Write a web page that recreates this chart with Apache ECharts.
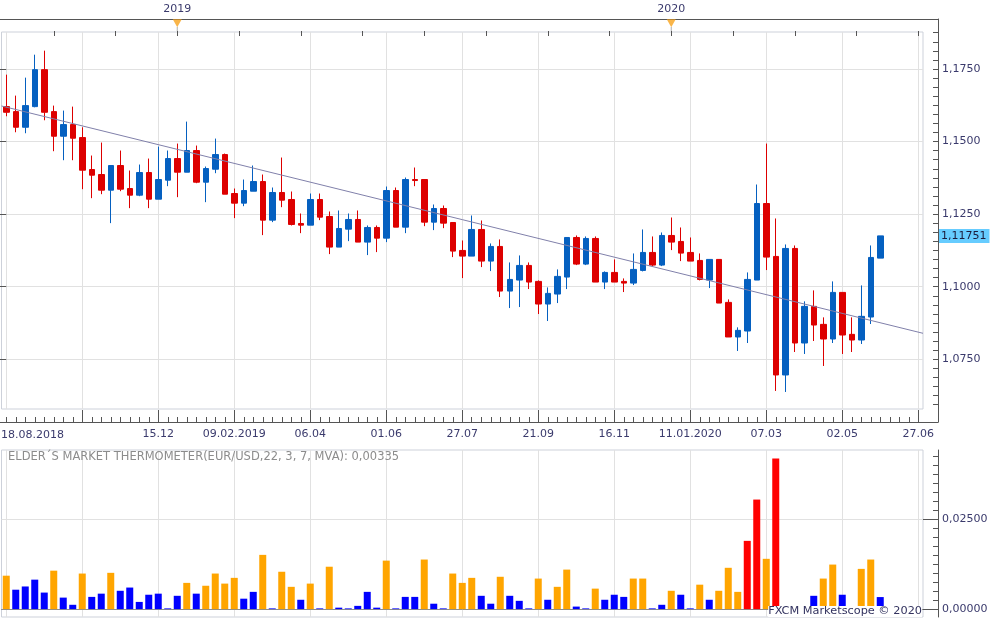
<!DOCTYPE html>
<html>
<head>
<meta charset="utf-8">
<script src="https://cdn.jsdelivr.net/npm/echarts@6.0.0/dist/echarts.min.js"></script>
<style>
  html, body { margin: 0; padding: 0; background: #fff; }
  #main { width: 996px; height: 619px; }
</style>
</head>
<body>
<div id="main"></div>
<script>
// EUR/USD weekly, first visible week is 25.08.2018
const firstWeek = Date.UTC(2018, 7, 25);
const weekCount = 97;
const startLabel = '18.08.2018';
const bottomLabels = ['15.12', '09.02.2019', '06.04', '01.06', '27.07', '21.09', '16.11', '11.01.2020', '07.03', '02.05', '27.06'];
const firstLabelWeek = 16;
const labelStep = 8;
const yearStarts = ['29.12.2018', '28.12.2019'];
const yearNames = ['2019', '2020'];

const priceTicks = [1.075, 1.1, 1.125, 1.15, 1.175];
const priceMin = 1.05789, priceMax = 1.18774;
const thermoTicks = [0, 0.025];
const thermoMin = -0.0022, thermoMax = 0.0443;

const opens = [1.16204, 1.16032, 1.15493, 1.16204, 1.17477, 1.16032, 1.15184, 1.15585, 1.15138, 1.14037,
  1.13865, 1.13326, 1.14175, 1.13383, 1.13154, 1.13934, 1.13016, 1.13670, 1.14415, 1.13945,
  1.14691, 1.13601, 1.14048, 1.14553, 1.13211, 1.12879, 1.13291, 1.13624, 1.12294, 1.13246,
  1.13005, 1.12179, 1.12122, 1.13005, 1.12420, 1.11365, 1.11984, 1.12317, 1.11537, 1.12041,
  1.11674, 1.13314, 1.12053, 1.13693, 1.13693, 1.12225, 1.12695, 1.12213, 1.11250, 1.11055,
  1.11973, 1.10883, 1.11388, 1.09851, 1.10230, 1.10734, 1.10184, 1.09404, 1.09748, 1.10333,
  1.11697, 1.10780, 1.11663, 1.10161, 1.10493, 1.10184, 1.10126, 1.10562, 1.11181, 1.10746,
  1.11766, 1.11560, 1.11181, 1.10906, 1.10230, 1.10941, 1.09461, 1.08269, 1.08475, 1.10230,
  1.12867, 1.11044, 1.06961, 1.11319, 1.08062, 1.09324, 1.08704, 1.08200, 1.09805, 1.08360,
  1.08165, 1.08957, 1.10986];
const closes = [1.16009, 1.15493, 1.16239, 1.17477, 1.16009, 1.15184, 1.15585, 1.15115, 1.14014, 1.13842,
  1.13326, 1.14175, 1.13360, 1.13154, 1.13934, 1.13016, 1.13693, 1.14415, 1.13945, 1.14691,
  1.13601, 1.14071, 1.14553, 1.13188, 1.12879, 1.13314, 1.13624, 1.12294, 1.13246, 1.12982,
  1.12145, 1.12122, 1.13005, 1.12397, 1.11365, 1.12007, 1.12317, 1.11537, 1.12041, 1.11674,
  1.13314, 1.12053, 1.13693, 1.13658, 1.12225, 1.12695, 1.12191, 1.11227, 1.11055, 1.11973,
  1.10883, 1.11388, 1.09851, 1.10252, 1.10734, 1.10161, 1.09404, 1.09771, 1.10356, 1.11697,
  1.10780, 1.11663, 1.10161, 1.10493, 1.10161, 1.10126, 1.10597, 1.11181, 1.10746, 1.11766,
  1.11537, 1.11158, 1.10883, 1.10252, 1.10941, 1.09438, 1.08269, 1.08498, 1.10252, 1.12867,
  1.11021, 1.06961, 1.11319, 1.08062, 1.09324, 1.08681, 1.08200, 1.09805, 1.08337, 1.08165,
  1.08980, 1.11009, 1.11751];
const lows = [1.15872, 1.15321, 1.15287, 1.16181, 1.15734, 1.14668, 1.14358, 1.14358, 1.13360, 1.13051,
  1.13188, 1.12191, 1.13291, 1.12707, 1.13119, 1.12707, 1.13016, 1.13464, 1.13085, 1.13945,
  1.13567, 1.12913, 1.13911, 1.13188, 1.12363, 1.12775, 1.13291, 1.11778, 1.12225, 1.12741,
  1.12110, 1.11846, 1.12122, 1.12294, 1.11124, 1.11365, 1.11571, 1.11537, 1.11090, 1.11193,
  1.11537, 1.12053, 1.11846, 1.13464, 1.12087, 1.11950, 1.12018, 1.11021, 1.10298, 1.11055,
  1.10677, 1.10539, 1.09645, 1.09266, 1.09301, 1.09920, 1.09060, 1.08819, 1.09438, 1.09920,
  1.10746, 1.10746, 1.10161, 1.09920, 1.10161, 1.09817, 1.10058, 1.10528, 1.10711, 1.10711,
  1.11262, 1.10883, 1.10883, 1.10218, 1.09954, 1.09438, 1.08269, 1.07787, 1.08062, 1.10230,
  1.10574, 1.06411, 1.06376, 1.07752, 1.07684, 1.08131, 1.07271, 1.08062, 1.07684, 1.07752,
  1.08028, 1.08716, 1.10986];
const highs = [1.17305, 1.16583, 1.17202, 1.17993, 1.18131, 1.16239, 1.16067, 1.16204, 1.15493, 1.14519,
  1.14966, 1.14175, 1.14691, 1.14003, 1.14209, 1.14415, 1.14828, 1.14691, 1.14931, 1.15688,
  1.14863, 1.14140, 1.15103, 1.14587, 1.13383, 1.13693, 1.14175, 1.13865, 1.13418, 1.14450,
  1.13280, 1.12523, 1.13211, 1.13211, 1.12592, 1.12626, 1.12523, 1.12626, 1.12110, 1.12110,
  1.13452, 1.13418, 1.13762, 1.14106, 1.13693, 1.12833, 1.12798, 1.12213, 1.11594, 1.12454,
  1.12282, 1.11491, 1.11629, 1.10837, 1.11078, 1.10837, 1.10218, 1.09977, 1.10597, 1.11697,
  1.11766, 1.11732, 1.11732, 1.10528, 1.10941, 1.10287, 1.11147, 1.11973, 1.11732, 1.11869,
  1.12385, 1.12041, 1.11697, 1.11147, 1.10941, 1.10941, 1.09564, 1.08601, 1.10493, 1.13521,
  1.14931, 1.12351, 1.11457, 1.11422, 1.09496, 1.09874, 1.08945, 1.10184, 1.09805, 1.08945,
  1.10046, 1.11422, 1.11751];

// trend line end points: [week position, price]
const trendLine = [[-0.5, 1.16226], [96.5, 1.08396]];

// Elder's market thermometer, o = above average, b = below, r = explosive
const thermo = [0.0093, 0.0054, 0.0063, 0.0082, 0.0046, 0.0107, 0.0032, 0.0012, 0.0099, 0.0034,
  0.0043, 0.0101, 0.0051, 0.0060, 0.0020, 0.0040, 0.0043, 0.0002, 0.0037, 0.0073,
  0.0043, 0.0065, 0.0099, 0.0071, 0.0087, 0.0029, 0.0048, 0.0151, 0.0002, 0.0104,
  0.0062, 0.0026, 0.0071, 0.0002, 0.0118, 0.0004, 0.0002, 0.0009, 0.0048, 0.0004,
  0.0135, 0.0002, 0.0034, 0.0034, 0.0138, 0.0015, 0.0002, 0.0099, 0.0073, 0.0087,
  0.0037, 0.0015, 0.0090, 0.0037, 0.0023, 0.0002, 0.0085, 0.0026, 0.0062, 0.0110,
  0.0007, 0.0002, 0.0057, 0.0026, 0.0040, 0.0034, 0.0085, 0.0085, 0.0002, 0.0012,
  0.0051, 0.0040, 0.0002, 0.0068, 0.0026, 0.0051, 0.0115, 0.0048, 0.0190, 0.0305,
  0.0140, 0.0419, 0.0003, 0, 0.0007, 0.0037, 0.0085, 0.0124, 0.0040, 0,
  0.0112, 0.0138, 0.00335];
const thermoState = ('obbbbobbob' + 'bobbbbbbbo' + 'boooobbobo' + 'obobobbbbb' + 'obbbobbooo' +
  'bbobbboboo' + 'bbobbboobb' + 'obbobooorr' + 'orbbbboobb' + 'oob').split('');

const pad = n => (n < 10 ? '0' : '') + n;
const dates = [];
for (let i = 0; i < weekCount; i++) {
  const d = new Date(firstWeek + i * 7 * 864e5);
  dates.push(pad(d.getUTCDate()) + '.' + pad(d.getUTCMonth() + 1) + '.' + d.getUTCFullYear());
}
const yearIdx = yearStarts.map(s => dates.indexOf(s));
const topTicks = [];
for (let v = yearIdx[0] - 13; v <= weekCount - 0.5; v += 6.5) topTicks.push(v);
const minorPrice = [];
for (let k = 0; k < 50; k++) {
  const v = +(1.05 + k * 0.003125).toFixed(6);
  if (v > priceMin && v < priceMax) minorPrice.push(v);
}
const minorThermo = [];
for (let k = 0; k <= 17; k++) minorThermo.push(+(k * 0.0025).toFixed(4));

const fmt = (v, d) => v.toFixed(d).replace('.', ',');
const lastClose = closes[closes.length - 1];

const font = 'DejaVu Sans';
const ink = '#3a3a6c';
const axisDark = '#555555';
const gridGray = '#e1e1e1';
const frameGray = '#cdd1da';
const upBlue = '#0560c0';
const downRed = '#dd0000';
const stateColor = { o: '#ffa500', b: '#0000ff', r: '#ff0000' };

const isLabelWeek = i => i >= firstLabelWeek && (i - firstLabelWeek) % labelStep === 0;

const chart = echarts.init(document.getElementById('main'));
chart.setOption({
  animation: false,
  backgroundColor: '#fff',
  grid: [
    { left: 1.5, top: 32, width: 921.5, height: 377, show: true, borderColor: frameGray, borderWidth: 1 },
    { left: 1.5, top: 450, width: 921.5, height: 167, show: true, borderColor: frameGray, borderWidth: 1 },
    { left: 1.5, top: 19, width: 921.5, height: 12 },
    { left: 0, top: 19, width: 938, height: 403 }
  ],
  xAxis: [
    {
      type: 'category', gridIndex: 0, data: dates, position: 'bottom', offset: 13,
      axisLine: { show: false },
      axisTick: { show: true, alignWithLabel: true, interval: 0, inside: true, length: 5, lineStyle: { color: axisDark } },
      axisLabel: {
        interval: i => isLabelWeek(i),
        formatter: (v, i) => bottomLabels[(i - firstLabelWeek) / labelStep],
        color: ink, fontFamily: font, fontSize: 11, margin: 7
      },
      splitLine: { show: true, alignWithLabel: true, interval: i => i % labelStep === 0, lineStyle: { color: gridGray } }
    },
    {
      type: 'category', gridIndex: 0, data: dates, position: 'bottom', offset: 13,
      axisLine: { show: false },
      axisTick: { show: true, alignWithLabel: true, interval: i => i > 0 && i % labelStep === 0, inside: true, length: 12, lineStyle: { color: axisDark } },
      axisLabel: { show: false },
      splitLine: { show: false }
    },
    { type: 'value', gridIndex: 0, min: -0.5, max: weekCount - 0.5, position: 'top', show: false },
    {
      type: 'category', gridIndex: 1, data: dates, position: 'bottom',
      axisLine: { show: true, onZero: true, lineStyle: { color: '#8c8c8c' } },
      axisTick: { show: false },
      axisLabel: { show: false },
      splitLine: { show: true, alignWithLabel: true, interval: i => i % labelStep === 0, lineStyle: { color: gridGray } }
    },
    {
      type: 'value', gridIndex: 2, min: -0.5, max: weekCount - 0.5, position: 'top',
      axisLine: { show: false },
      axisTick: { show: true, inside: true, length: 5, customValues: topTicks, lineStyle: { color: axisDark } },
      axisLabel: {
        customValues: yearIdx, formatter: v => yearNames[yearIdx.indexOf(v)],
        color: ink, fontFamily: font, fontSize: 11, margin: 4
      },
      splitLine: { show: false }
    },
    {
      type: 'value', gridIndex: 3, min: 0, max: 1, position: 'top',
      axisLine: { show: true, onZero: false, lineStyle: { color: axisDark } },
      axisTick: { show: false }, axisLabel: { show: false }, splitLine: { show: false }
    },
    {
      type: 'value', gridIndex: 3, min: 0, max: 1, position: 'bottom',
      axisLine: { show: true, onZero: false, lineStyle: { color: axisDark } },
      axisTick: { show: false }, axisLabel: { show: false }, splitLine: { show: false }
    }
  ],
  yAxis: [
    {
      type: 'value', gridIndex: 0, min: priceMin, max: priceMax, position: 'right', offset: 15,
      axisLine: { show: false },
      axisTick: { show: true, inside: true, length: 15, customValues: priceTicks, lineStyle: { color: axisDark } },
      axisLabel: { customValues: priceTicks, formatter: v => fmt(v, 4), color: ink, fontFamily: font, fontSize: 11, margin: 4 },
      splitLine: { show: true, lineStyle: { color: gridGray } }
    },
    {
      type: 'value', gridIndex: 0, min: priceMin, max: priceMax, position: 'right', offset: 15,
      axisLine: { show: false },
      axisTick: { show: true, inside: true, length: 5, customValues: minorPrice, lineStyle: { color: axisDark } },
      axisLabel: { show: false }, splitLine: { show: false }
    },
    {
      type: 'value', gridIndex: 0, min: priceMin, max: priceMax, position: 'right', offset: 15,
      axisLine: { show: false }, axisTick: { show: false },
      axisLabel: {
        customValues: [lastClose], formatter: v => fmt(v, 5),
        color: '#1c1c3c', backgroundColor: '#66ccff', padding: [2, 3, 1, 2],
        fontFamily: font, fontSize: 11, margin: 1
      },
      splitLine: { show: false }
    },
    {
      type: 'value', gridIndex: 1, min: thermoMin, max: thermoMax, position: 'right', offset: 15,
      axisLine: { show: true, onZero: false, lineStyle: { color: axisDark } },
      axisTick: { show: true, inside: true, length: 15, customValues: thermoTicks, lineStyle: { color: axisDark } },
      axisLabel: { customValues: thermoTicks, formatter: v => fmt(v, 5), color: ink, fontFamily: font, fontSize: 11, margin: 4 },
      splitLine: { show: true, lineStyle: { color: gridGray } }
    },
    {
      type: 'value', gridIndex: 1, min: thermoMin, max: thermoMax, position: 'right', offset: 15,
      axisLine: { show: false },
      axisTick: { show: true, inside: true, length: 5, customValues: minorThermo, lineStyle: { color: axisDark } },
      axisLabel: { show: false }, splitLine: { show: false }
    },
    { type: 'value', gridIndex: 2, min: 0, max: 1, show: false },
    {
      type: 'value', gridIndex: 3, min: 0, max: 1, position: 'right',
      axisLine: { show: true, onZero: false, lineStyle: { color: axisDark } },
      axisTick: { show: false }, axisLabel: { show: false }, splitLine: { show: false }
    }
  ],
  series: [
    {
      type: 'candlestick', xAxisIndex: 0, yAxisIndex: 0, barWidth: 6,
      data: opens.map((o, i) => [o, closes[i], lows[i], highs[i]]),
      itemStyle: { color: upBlue, color0: downRed, borderColor: upBlue, borderColor0: downRed, borderWidth: 1 }
    },
    {
      type: 'line', xAxisIndex: 2, yAxisIndex: 0, data: trendLine, symbol: 'none', silent: true, z: 5,
      lineStyle: { color: '#8080aa', width: 1 }
    },
    {
      type: 'bar', xAxisIndex: 3, yAxisIndex: 3, barWidth: 7,
      data: thermo.map((v, i) => ({ value: v, itemStyle: { color: stateColor[thermoState[i]] } }))
    },
    {
      type: 'scatter', xAxisIndex: 4, yAxisIndex: 5, symbol: 'rect', symbolSize: [1, 4],
      data: yearIdx.map(i => [i, 0.17]), itemStyle: { color: '#9a9a9a' }, silent: true
    },
    {
      type: 'scatter', xAxisIndex: 4, yAxisIndex: 5, symbol: 'triangle', symbolRotate: 180, symbolSize: [9, 8],
      data: yearIdx.map(i => [i, 0.65]), itemStyle: { color: '#f7a21b' }, silent: true
    }
  ],
  graphic: [
    { type: 'text', left: 1, top: 430, style: { text: startLabel, font: '11px "DejaVu Sans"', fill: ink } },
    {
      type: 'text', left: 8, top: 451, z: 50,
      style: { text: 'ELDER´S MARKET THERMOMETER(EUR/USD,22, 3, 7, MVA): ' + fmt(thermo[thermo.length - 1], 5), font: '11.5px "DejaVu Sans"', fill: '#8c8c8c' }
    },
    {
      type: 'text', right: 74, bottom: 2, z: 50,
      style: { text: 'FXCM Marketscope © 2020', font: '11.3px "DejaVu Sans"', fill: '#33335f', backgroundColor: '#fff' }
    }
  ]
});
</script>
</body>
</html>
